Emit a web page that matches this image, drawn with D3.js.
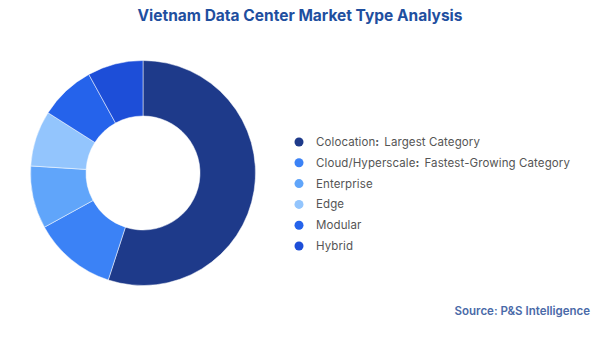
<!DOCTYPE html>
<html>
<head>
<meta charset="utf-8">
<script src="https://cdn.jsdelivr.net/npm/d3@7"></script>
<style>
  body { margin: 0; background: #fff; }
  svg { display: block; font-family: "Inter", "Roboto", sans-serif; }
</style>
</head>
<body>
<div class="chart"></div>
<script>
// Market type shares (%)
const categories = ["Colocation", "Cloud/Hyperscale", "Enterprise", "Edge", "Modular", "Hybrid"];
const notes = ["Largest Category", "Fastest-Growing Category", "", "", "", ""];
const shares = [55, 12, 9, 8, 8, 8];
const colors = ["#1e3a8a", "#3b82f6", "#60a5fa", "#93c5fd", "#2563eb", "#1d4ed8"];

const data = categories.map((c, i) => ({ name: c, note: notes[i], value: shares[i] }));

const width = 600, height = 337;

const svg = d3.select(".chart")
  .append("svg")
  .attr("width", width)
  .attr("height", height);

// Title
svg.append("text")
  .attr("x", 300)
  .attr("y", 21)
  .attr("text-anchor", "middle")
  .attr("font-size", 15.5)
  .attr("font-weight", 700)
  .attr("fill", "#1f4f9f")
  .text("Vietnam Data Center Market Type Analysis");

// Donut
const color = d3.scaleOrdinal().domain(categories).range(colors);

const pie = d3.pie()
  .sort(null)
  .value(d => d.value);

const arc = d3.arc()
  .innerRadius(57)
  .outerRadius(112.5);

const group = svg.append("g")
  .attr("transform", "translate(143,173)");

group.selectAll(".arc")
  .data(pie(data))
  .enter()
  .append("path")
  .attr("class", "arc")
  .attr("d", arc)
  .attr("fill", d => color(d.data.name))
  .attr("stroke", "#fff")
  .attr("stroke-width", 0.5);

// Legend
const legendY = d3.scalePoint()
  .domain(categories)
  .range([142, 246]);

const legend = svg.append("g");

const item = legend.selectAll(".item")
  .data(data)
  .enter()
  .append("g")
  .attr("class", "item")
  .attr("transform", d => `translate(299,${legendY(d.name)})`);

item.append("circle")
  .attr("r", 4.5)
  .attr("fill", d => color(d.name));

const label = item.append("text")
  .attr("x", 17)
  .attr("dy", "0.35em")
  .attr("font-size", 11.5)
  .attr("letter-spacing", 0.1)
  .attr("fill", "#555");

label.append("tspan")
  .text(d => d.name);

label.filter(d => d.note)
  .append("tspan")
  .attr("font-weight", 700)
  .text(":");

label.filter(d => d.note)
  .append("tspan")
  .attr("dx", 5)
  .text(d => d.note);

// Source
svg.append("text")
  .attr("x", 590)
  .attr("y", 315)
  .attr("text-anchor", "end")
  .attr("font-size", 11.5)
  .attr("font-weight", 600)
  .attr("fill", "#4a6aa8")
  .text("Source: P&S Intelligence");
</script>
</body>
</html>
